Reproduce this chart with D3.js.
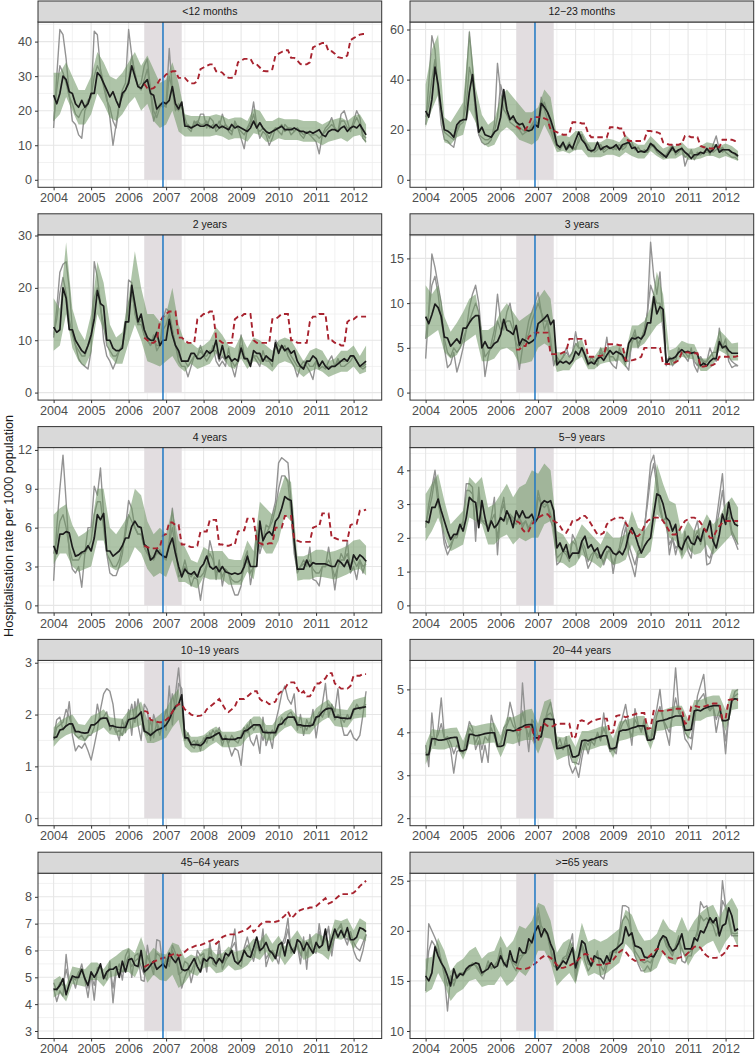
<!DOCTYPE html>
<html><head><meta charset="utf-8">
<script src="https://cdn.jsdelivr.net/npm/d3@7"></script>
<style>body{margin:0;background:#fff}svg{display:block}</style>
</head><body>
<svg id="chart" width="756" height="1056"></svg>
<script>
// ---------------- DATA ----------------
// Monthly series run Jan 2004 .. May 2012 (101 months); band bounds are every 2nd month;
// the counterfactual (red dashed) runs Jun 2006 .. May 2012 (72 months).
const panelLabels = ["<12 months","12\u221223 months","2 years","3 years","4 years","5\u22129 years","10\u221219 years","20\u221244 years","45\u221264 years",">=65 years"];
const yTicks = [[0,10,20,30,40],[0,20,40,60],[0,10,20,30],[0,5,10,15],[0,3,6,9,12],[0,1,2,3,4],[0,1,2,3],[2,3,4,5],[3,4,5,6,7,8],[10,15,20,25]];
const yFloor = [0,0,0,0,0,0,0,2,3,10];
const xTicks = [2004,2005,2006,2007,2008,2009,2010,2011,2012];
const periodStart = 2006 + 5/12, periodEnd = 2007 + 5/12, introDate = 2006 + 11/12;
const yTitle = "Hospitalisation rate per 1000 population";

// <12 months
const p1Obs1 = [15,30,43.5,42,35,25,17,16,13,12,20,22, 24,43,42,32,28,24,18,10,16,22,26,28, 43.5,36,30,27,28,33,35,26,17,20,22,21, 22,38,26,20,22,21,18,15,14,17,16,19, 19,15,18,17,14,15,19,16,14,13,17,15, 12,9,15,17,22.5,16,12,14,13,10,12,15, 14,13,16,15,13,14,15,13,12,14,13,12, 11,7.5,13,15,16,18,15,14,19,20,17,14, 17,20,18,12,11];
const p1Obs2 = [17,26,33,31,28,24,22,19,18,20,21,23, 24,30,33,31,27,23,21,17,15,22,24,26, 29,36,31,27,26,29,32,26,20,18,21,22, 21,30,26,21,20,22,16,16,15,16,17,16, 16,17,15,16,15,17,15,16,15,14,16,15, 14,13,15,16,19,15,14,15,14,12,14,15, 15,16,14,15,15,14,15,14,13,14,13,13, 13,12,13,14,15,16,15,14,17,17,15,15, 16,18,16,13,12];
const p1Fit = [24.5,22,25,30,29,25.5,25,22,21,23,21,22, 25,25,31,30,28,26,24,25.5,23,21,25,26, 28,33,30,27,26.5,28,29,25,24.5,20.5,21.5,22.5, 22,23,27,22,20.5,22.5,15.5,15.5,15,15.5,16,15.5, 15.5,16,15.5,15,16,15,15.5,15,14.5,16,15,15.5, 15,14.5,14,15,17,15,16.5,15,14,13.5,14,14.5, 15,15.5,14.5,14.5,14.5,15,14.5,14,14,13.5,14,13.5, 14,14.5,13,12.5,14,14.5,14.5,14,15,15.5,14,15, 15.5,15,16,14.5,13];
const p1Lo = [17,19,24,20,16,16,19,25,22,18, 17,19,22,24,20,22,17,15,16,20, 14,12.5,12.5,12.5,12.5,12.5,13,12.5,11.5,12, 12,11,13.5,13,11,11,12,11.5,11.5,11.5, 11,11,11,10,11,11.5,12,11,12.5,13, 10.5];
const p1Hi = [31,31,34,30,26,26,30,37,34,30, 29,31,34,37,33,36,32,28,29,34, 28,19,18.5,18.5,18.5,18.5,19,18.5,17.5,18, 18,17,20.5,20,17,17,18,17.5,17.5,17.5, 17,17,17,16,17,17.5,18,17,18.5,19, 16];
const p1Cf = [27.8,26.5,26.3,26.5,27.5,29,29.5, 30.5,31,31.4,31.4,29.5,29.5,29.5,28.5,27.9,27.9,28.5,32, 32.5,33,33.4,33.4,31.4,31.4,31,30,29.5,29.5,30,34, 34.5,35,35,35,33.4,33.4,32.5,31.5,31.4,31.4,32,36, 36.5,37,37.5,37.5,35.3,35.3,34.5,33.5,33.4,33.4,34,38.3, 38.8,39.2,39.6,39.6,37.2,37.2,36.5,35.5,35.3,35.3,36,40.4, 41,41.5,42,42.2,42.2];

// 12-23 months
const p2Obs1 = [22,38,57.5,52,35,22,16,15.5,14,13,19,22, 23,40,59,45,25,18,15,14,14.5,16,22,46.5, 35,28,26,23,22,21,20,18,19,20,22,24, 22,33,28,24,20,16,13,12,14,13,15,12, 13,15,18,15,13,11,12,13,14,11,12,13, 12,13,14,12,13,16,15,12,13,11,12,11, 14,13,11,10,9,10,12,14,10,11,13,5.5, 9,12,9,11,10,11,12,10,14,17.5,12,13, 11,10,9,9,8];
const p2Obs2 = [25,30,40,48,36,26,19,18,17,16,20,23, 24,30,45,40,27,18,17,16,16,17,19,25, 38,33,27,25,24,23,21,20,19,20,21,23, 21,28,31,27,22,18,14,13,14,12,13,13, 12,17,18,15,14,12,11,12,14,12,13,13, 13,12,14,13,14,15,14,12,13,11,11,11, 13,14,12,11,10,9,11,12,11,12,12,9, 10,11,8,10,10,11,11,12,11,12,13,11, 12,12,11,10,9];
const p2Fit = [27.5,25,32,45,38,28,20,19.5,18.5,17,22,23.5, 24,24,35,42,30,19,21,18,17.5,17,19,20, 25,36,28,24,25.5,23,22,22.5,20,19.5,20,22, 21,30.5,29,27,24,20,14,13,15,12,14,12.5, 16,19,16,14.5,12,11.5,12,15,12,13,13.5,12.5, 13,14,12,14,14.5,15,12.5,13,11,11.5,11,12, 14.5,13.5,12,11,10,9,11,13,11,12,12.5,11, 10,8.5,10,10,11,10.5,12.5,11,12,14,11,12, 12,12,11,10.5,9.5];
const p2Lo = [21,28,34,15,14,17,18,28,23,15, 13,14,19,21,19,16,15,14,16,22, 17,11,11.5,10.5,12,12,9,9,9,10, 10,9,11,9.5,8.5,8.5,11.5,9.5,8,8.5, 8.5,10,8,8,8.5,9.5,9.5,8.5,9.5,8.5, 7.5];
const p2Hi = [38,52,58,25,23,27,31,60,37,26, 22,24,33,36,33,30,27,27,29,36, 33,17.5,18,17,19.5,19.5,15,15,15,16.5, 16,15,18,15.5,14,14,17.5,15,12.5,13.5, 13.5,15,12.5,12.5,13.5,15,14.5,13.5,14.5,13.5, 11.5];
const p2Cf = [21.5,20.5,20,20,22,25,25, 25,25,24.5,24,20,19.5,19,18.5,18,18,18.5,23, 23,23,22.5,22.5,18.5,17,17,17,17,17,17,21, 21,21,20.5,20.5,16.5,15.5,15.5,15.5,15.5,15.5,16,19.5, 19.5,19,19,18.5,15,14.5,14,14,14,14,14.5,17.5, 17.5,17,17,17,13.5,13,13,12.5,12.5,13,13,16, 16,16,16,15.5,15.5];

// 2 years
const p3Obs1 = [10.5,16,23,24.5,25,20,12,9,6.5,5.5,5,4.5, 8,25,22,17,10,7,6,4.5,6,8,9,12, 21.5,21,15,13,14,11,10,9,11,8,9,14, 16,15.5,12,9,6,5,5,3,5,7,7,9, 7,6,7,9,6,5,6,5,8.5,5,3,6, 11,7,6,5.5,7,6,5,8,6,6,5,10, 9,8.5,9,7,6,5,3,5,6,5,4,2.5, 6,4.5,5,4.5,6,7,5,6.5,5,5,5.5,6, 7,6,5,4.5,5];
const p3Obs2 = [11,14,19,22,19,14,11,9,8,7,7,9, 10,18,20,16,13,9,8,7,7,8,9,12, 17,19,16,13,13,11,10,9,10,9,9,12, 13,15,12,9,7,6,6,5,6,7,7,8, 7,7,8,8,8,6,7,6,7,6,5,6, 9,7,6,6,7,7,6,6,7,6,6,9, 8,9,8,8,7,6,5,5,5,6,5,5, 6,5,6,5,5,5,5,6,6,6,6,7, 7,6,5,5,5.5];
const p3Fit = [12.5,11.5,12,20,18,12,12,10,9,8,7.5,9, 11,14,19.5,17,16.5,10,10,8.5,8,8,8.5,13.5, 13.5,20.5,17,13.5,15,12,10.5,10,10,11.5,9,10, 10,14,11,9,8,6,6,6,7.5,7.5,6.5,6.5, 7,8,7.5,8,10,6.5,9,6.5,7,6,6.5,6, 8.5,6.5,6.5,5,8,7.5,7.5,6,7,6.5,6,9.5, 7.5,9,8,8.5,7.5,8,6,5,4.5,6,6,7, 6.5,5,6,5,4.5,5,5,5.5,6,6.5,6,7, 7,6,5,5.5,6];
const p3Lo = [8,9,15,8.5,6,5,7.5,15,12,7, 5.5,5.5,9.5,13,10,6,5.5,5,6,7, 5,4,5.5,4.5,5,5.5,7.5,7,5,4.5, 6.5,4.5,6,5.5,5,4,5.5,6,5.5,4, 3,4,4.5,4,3,3.5,4,4,5,3.5, 4];
const p3Hi = [18,16,28.7,16,12,10,15,25,21,13, 10.5,11.5,18,27,20,15,15,13.5,15,20, 13,9.5,9.5,8.5,9,10,12.5,11,9,8.5, 11,8.5,10.5,10,9,8,10,10.5,10,8, 6,8,8.5,8,6,6.5,8,8,9,7, 9];
const p3Cf = [10.5,10,9.5,9.5,10,13.5,14.5, 15,15.5,15.5,15.5,10.5,10.5,10,9.5,9.5,9.5,14,14.5, 15,15,15.5,15.5,10.5,10,9.5,9.5,9.5,9.5,14,14.5, 14.5,15,15,15,10,9.5,9.5,9.5,9.5,9.5,14,14, 14.5,15,15,15,10,10,9.5,9.5,9.5,9.5,13.5,14.5, 14.5,15,15,15,10,10,9.5,9.5,9,9,13.5,14, 14,14.5,14.5,14.5,14.5];

// 3 years
const p4Obs1 = [3.8,9,15.5,14,12,10,5,2.8,3.2,4.5,2.3,3.5, 5,7,9.5,11,12,10,6,1.8,4,5.5,7,11, 8,7,9,10,8,5,2.6,5,6,8,9,10, 11.2,9,7,8,6,3,4,3.5,4,5,4,4.5, 6.8,5,5,4,3,4,3.5,3,5,4,6.2,3.5, 3,2.7,5,4,3,2.5,6,7,5,6,7,9, 16.8,13,11,13.5,8,3,4,3,3.5,5,4.5,4, 3.5,5,3,2.3,4,3,3.5,5,4,3.5,7.2,5, 6,3.5,2.8,3,3];
const p4Obs2 = [6,9,12,13,11,8,6,4.5,4,5,4.5,5, 6,7,8,9,10,9,6,4,4.5,5,6,8, 7,7.5,8,8,7,5.5,5,5.5,6,6.5,8,9, 10,9,8,8,5,3.5,3.5,3.5,4,4.5,4,4.5, 5.5,5,5,4,3.5,3.5,3.5,3.5,4.5,4,5,4, 4,3.5,4.5,4,3.5,3.5,5.5,6.5,5.5,6,7,9, 12,11,10,10,7,3.5,4,3.5,4,4.5,4.5,4.5, 4,4.5,3.5,3,4,3.5,3.5,4,4.5,4.5,6,5, 5,4,3.5,3.2,3];
const p4Fit = [8.5,7.7,8.7,9.9,9.5,8.5,6.2,6.1,5.2,5.6,6,5.5, 7.2,7.2,7.8,8.3,8.6,8.6,5,5.7,5,5,5.5,5.7, 6.5,8.2,7,6.8,6.5,7.5,5.3,6,5.8,5.5,5.7,6, 7.7,8,8.3,8.7,7.6,8.1,3.1,3.5,3.3,3.5,3.2,3.6, 4.6,4.2,5,4.2,3.2,3.4,3.2,3.8,4,3.6,4.2,4.7, 4.3,4.6,4.4,4.2,3.5,5.5,6.1,6,6.2,6,6.5,7.8, 7.8,10.7,8.8,9.6,9.3,3.2,3.8,3.8,4,4.5,4.8,4.5, 4.6,4.4,4.5,4.3,3,3.3,3,3.5,3.8,3.8,5.7,5, 5.2,4.7,4.4,4.4,4.4];
const p4Lo = [6,6.5,7,4.5,3.8,4.2,5.5,6,6.5,3.5, 3.5,3.8,4.8,5,4.5,3.2,3.3,3.5,5,5.5, 5,2.3,2.5,2.5,3.6,4,2.6,2.6,3.2,3.4, 3.5,3.6,2.8,5,5,5.5,6.5,7.5,8,3, 3.2,4,3.8,3.7,2.4,2.4,3,4.7,4.3,3.6, 3.6];
const p4Hi = [12,11,12,8.5,6.8,7.8,9,10.5,11,7, 7,7.5,9,10,9,8,8.5,9,10.5,11.5, 10.5,4.5,4.5,4,5.5,6,4,4,5,5, 5.2,5.4,4.5,7.5,7.5,8,9.5,13.5,11,4.7, 5,5.8,5.5,5.4,3.8,3.8,4.6,7,6.3,5.5, 5.6];
const p4Cf = [4.8,4.8,5.2,5.2,6.2,6.5,6.7, 6.7,6.7,6.7,6.7,4.3,4.3,4.3,4.3,4.5,4.6,6,6, 6,6,6,6,4,4,4,4.1,4.1,4.2,5.4,5.4, 5.4,5.4,5.3,5.3,3.6,3.6,3.6,3.7,3.8,4,5,5, 5,5,5,5,3.2,3.2,3.2,3.3,3.4,3.6,4.5,4.5, 4.5,4.4,4.4,4.4,2.9,2.9,3,3,3.1,3.3,4,4, 4,4,4,4,4.1];

// 4 years
const p5Obs1 = [1.9,6,9,11.6,8,4,2.8,2.5,3,1.4,4,6, 6,9.2,8.5,10.6,7,4,2.5,2.3,2.3,3,4,6, 8.1,7.5,6,5.5,5.5,4.5,4,3.8,3.5,4,4.3,3.7, 3.5,5,7.5,5,2.2,2.5,3.5,2.5,1.5,2.2,2,0.4, 2,3,5,4,2,3.5,1.5,2.8,2.5,1.5,0.8,0.8, 1.5,3.5,4.2,1.6,3,5.8,4,5,6.2,6,7,8, 11,11.4,11.2,11,8,5,2.5,3,3.5,3,4.5,2, 1.9,1.5,3,3,4.5,3,1.2,3,4,3.5,5,2.5, 3,2,3.5,2.5,3.5];
const p5Obs2 = [4,5,6.5,7,6,4.5,3.5,3.5,3.5,4,4,4.5, 5,7,8,8,6,4,3.5,3,3,3.5,4.5,5.5, 7,6.5,6,5.5,5.5,4.5,4,3.5,3.8,4,4,3.8, 3.8,4.8,6,4.5,2.8,2.5,3,2.5,2.2,2.5,2.2,2.2, 2.5,3.2,4,3.5,2.5,3,2.2,2.8,2.5,2,1.8,1.8, 2,3,3.5,2.5,3,5,4.5,5,5.5,6,6.5,7.5, 9,10,10,9.5,7,4,2.7,3,3.2,3.2,3.5,2.8, 2.5,2.5,3,3,3.5,3,2.2,3,3.5,3.5,4,3, 3.5,3,3.5,3,3.2];
const p5Fit = [4.6,4,5.5,5.5,5.7,5.6,4.5,3.8,3.9,4.1,4.2,4.6, 4.2,5.2,7,6.6,7.1,4.2,4.2,3.8,4,4.2,4.6,5.2, 5.2,6.1,6.5,6.1,6,4.7,4.5,3.5,3.7,4.3,4,3.8, 3.7,4.6,5.2,4,3,2.2,2.8,2.5,2.4,2.6,2.2,2.9, 3.2,3.8,3,2.8,3,2.6,3,2.6,2.5,2.4,2.5,2.4, 2.5,3,3.8,3,3,3,6.5,5,5.5,5.7,5.4,6.5, 6.8,7.5,8.4,8.2,8.1,5,2.8,2.8,2.8,3.5,3,3.3, 3.2,3.2,3.2,3.2,3.1,3,3,3.5,3.3,3,3.5,2.8, 3.9,3.5,3.9,3.7,3.4];
const p5Lo = [3.2,4,4,3,2.6,2.8,3,5,5,3, 2.7,3,3.4,4.5,4,2.8,2.2,2.5,2.2,3.5, 1.8,1.8,1.5,1.3,2.2,2,2,2,1.6,1.6, 1.6,2.6,2,4.8,4,4,5,7,6.5,1.9, 2,2,2.2,2.2,2.1,2,2.2,2.4,2.7,2.8, 2.3];
const p5Hi = [7,7.5,7.8,6.2,5.3,5.6,6,9,9,6, 5.5,6.2,7,9,8.5,6.5,5.5,6,5.5,7.5, 5,4.5,3.5,3.3,4.5,4.2,4.2,4.2,3.6,3.5, 3.5,5,4.2,8,7.5,7,8.5,10,9.5,3.8, 3.8,4,4.3,4.3,4.1,4.2,4.4,4.6,5,5.1, 4.6];
const p5Cf = [4.6,4.5,4.4,4.4,4.4,4.5,5.4, 5.5,6.4,6.4,6.2,6.2,4.7,4.7,4.6,4.5,4.5,4.6,5.7, 5.7,5.7,6.6,6.6,6.6,4.7,4.7,4.6,4.6,4.7,4.7,5.7, 5.8,5.8,6.7,6.7,6.7,4.9,4.8,4.7,4.7,4.8,4.8,6, 6,6,6.9,6.9,6.9,5.1,5,4.9,4.9,4.9,4.9,6, 6.1,6.1,7.1,7.1,7.1,5.2,5.2,5.1,5,5,5,6.2, 6.3,6.3,7.3,7.3,7.4];

// 5-9 years
const p6Obs1 = [2.3,3,3.5,4,3.3,2.5,1.8,1.5,1.7,2,2,2.3, 2.5,3.6,3.6,3.5,1.9,3.5,2.5,2.5,2.3,2.6,3.2,1.5, 2.8,3.2,2.4,2.7,2.5,2.4,2.6,2.3,2.5,2.2,2.5,2.5, 3.4,3,2.9,3,2.5,2.3,1.2,1.3,1.6,1.5,1.3,2.1, 1.9,1.4,1.8,1.5,1.1,1.3,1.6,1.4,1.5,1.2,1.5,1.7, 0.95,1.5,1.7,2.2,2.5,1.5,1.2,0.85,1.5,1.6,2.2,3.2, 4.2,4.45,3.8,3,2.5,2.6,1.5,2,1.5,1.9,1.5,2.2, 1.6,1.4,2.2,2.5,1.8,2.2,1.2,1.25,1.6,2.5,3.2,3.9, 2.5,2.6,2.1,1.9,1.65];
const p6Obs2 = [2.4,2.8,3.2,3.8,3,2.6,2,1.7,1.8,2,2.1,2.3, 2.4,3.4,3.4,3.3,2.2,3.3,2.5,2.4,2.3,2.5,2.7,2, 2.7,3,2.5,2.7,2.6,2.5,2.6,2.4,2.5,2.3,2.5,2.4, 3.2,3,3,3,2.7,2.4,1.4,1.5,1.6,1.6,1.4,1.9, 1.8,1.5,1.9,1.7,1.3,1.5,1.6,1.5,1.4,1.3,1.6,1.6, 1.2,1.5,1.6,1.9,2.3,1.8,1.5,1.2,1.6,1.7,2.3,3, 3.8,4.2,3.5,2.8,2.5,2.4,1.8,2,1.7,1.8,1.6,2, 1.8,1.6,2,2.2,1.9,2.1,1.5,1.4,1.7,2.3,2.8,3.4, 2.6,2.8,2.2,2,1.8];
const p6Fit = [2.5,2.45,2.9,2.9,3.15,2.8,2.5,2.2,1.95,2.1,2.1,2.4, 2.2,2.6,3.2,3.1,3.05,2.3,3.1,2.6,2.2,2.5,2.3,2.4, 2.6,2.5,2.8,2.6,2.3,2.8,2.6,2.8,2.6,2.6,2.7,2.45, 2.6,3,3.1,3.05,3.1,2.8,1.7,1.85,1.6,1.8,1.4,1.55, 1.55,1.55,1.9,2.05,1.7,1.8,1.6,1.7,1.4,1.6,1.75,1.7, 1.55,1.5,1.6,1.5,1.7,2.1,2.3,2.1,1.8,1.55,1.75,1.9, 2,2.7,3.3,3.25,3,2.6,2.5,2.2,2.4,1.75,1.65,1.9, 2.05,1.85,1.8,2.05,1.9,2.25,2.2,2.5,1.9,1.7,2.1,2.7, 2.4,3.05,2.6,2.4,2.35];
const p6Lo = [1.9,2.2,2.6,2.1,1.6,1.7,1.8,2.6,2.5,2.4, 1.8,1.8,2,2.1,1.8,2,1.9,2,2,2.4, 2.5,1.3,1.25,1.1,1.2,1.5,1.35,1.25,1.1,1.4, 1.2,1.25,1.35,1.8,1.4,1.4,1.6,2.7,2.5,2, 1.9,1.35,1.7,1.5,1.55,1.8,1.5,1.7,1.9,2.1, 1.8];
const p6Hi = [3.3,3.6,3.9,3.1,2.4,2.6,2.8,3.8,3.6,3.8, 2.9,3,3.3,3.6,3.2,3.5,3.6,4,3.9,4.2, 4,2.2,2.1,1.8,2,2.4,2.2,2,1.8,2.2, 2,2,2.1,2.8,2.3,2.2,2.5,4.2,3.6,3.1, 3,2.1,2.5,2.2,2.3,2.7,2.4,2.6,3,3.2, 2.9];
const p6Cf = [2.5,2.45,2.25,2.15,2.2,2.4,2.5, 2.6,2.65,2.7,2.7,2.6,2.5,2.45,2.35,2.2,2.15,2.3,2.5, 2.5,2.55,2.65,2.65,2.55,2.4,2.25,2.1,2.1,2.15,2.4,2.5, 2.55,2.6,2.6,2.6,2.45,2.3,2.15,2.05,2.05,2.15,2.35,2.5, 2.55,2.6,2.6,2.6,2.5,2.35,2.2,2.1,2.1,2.2,2.35,2.5, 2.55,2.6,2.6,2.55,2.45,2.3,2.15,2,2,2.2,2.35,2.45, 2.5,2.5,2.5,2.5,2.5];

// 10-19 years
const p7Obs1 = [1.55,1.9,1.95,1.7,1.8,2.25,1.6,1.3,1.4,1.35,1.45,1.3, 1.12,1.4,1.7,2.1,2.4,2.5,2.45,2.2,1.7,1.5,1.9,1.65, 2.1,1.6,2.25,1.8,1.5,2.2,2.1,1.5,2,1.8,1.6,1.9, 1.7,2.55,1.8,2.4,2.9,2.2,1.5,1.65,1.4,1.35,1.5,1.3, 1.55,1.45,1.65,1.5,1.7,1.65,1.4,1.6,1.4,1.2,1.35,1.3, 1.02,1.6,1.8,1.5,1.4,1.6,1.25,1.95,1.4,1.6,1.35,1.85, 2.1,2.4,2.55,2.3,2.2,2.4,1.7,2,1.6,1.9,1.75,2.1, 1.55,1.95,2.2,2.6,1.95,2.2,2.05,2.5,1.85,1.6,1.6,1.7, 1.55,1.5,1.6,2,2.45];
const p7Obs2 = [1.5,1.75,1.8,1.85,2.1,1.95,1.75,1.6,1.55,1.6,1.5,1.6, 1.6,1.75,2.2,1.9,1.95,2.05,1.7,1.8,1.65,1.7,1.6,1.85, 1.9,2.2,1.85,2.3,2,1.75,1.6,1.9,1.55,1.85,1.7,1.8, 2.1,1.9,2.4,2.1,2.6,2.5,1.6,1.5,1.45,1.5,1.4,1.45, 1.5,1.6,1.55,1.7,1.6,1.75,1.5,1.55,1.45,1.6,1.5,1.45, 1.6,1.75,1.65,1.9,1.7,1.8,1.75,1.5,1.7,1.6,1.7,1.6, 1.75,1.95,1.8,2,2.05,1.9,1.85,1.75,1.8,1.7,1.85,1.8, 1.9,2.05,1.95,2.1,2.2,2.1,1.9,2,1.95,1.85,2,1.9, 2.05,2.2,2.1,2.15,2.2];
const p7Fit = [1.55,1.57,1.7,1.72,1.78,1.82,1.82,1.67,1.67,1.65,1.64,1.65, 1.8,1.8,1.85,1.92,1.93,1.93,1.78,1.78,1.76,1.75,1.75,1.75, 1.9,1.92,1.93,1.98,2.05,1.68,1.65,1.6,1.65,1.7,1.72,1.75, 1.8,1.9,2.05,2.15,2.2,2.38,1.55,1.55,1.42,1.42,1.42,1.4, 1.45,1.55,1.55,1.58,1.62,1.65,1.52,1.53,1.52,1.52,1.52,1.55, 1.55,1.68,1.7,1.75,1.8,1.8,1.8,1.66,1.65,1.65,1.65,1.65, 1.8,1.82,1.9,1.95,1.95,1.95,1.8,1.8,1.78,1.78,1.78,1.8, 1.95,1.97,2.05,2.1,2.12,2.12,1.95,1.95,1.93,1.93,1.92,1.93, 2.1,2.12,2.13,2.14,2.15];
const p7Lo = [1.38,1.52,1.6,1.65,1.52,1.48,1.62,1.68,1.75,1.62, 1.6,1.58,1.72,1.75,1.8,1.45,1.45,1.5,1.55,1.75, 1.9,1.38,1.27,1.27,1.3,1.4,1.47,1.37,1.37,1.37, 1.4,1.55,1.64,1.65,1.5,1.5,1.64,1.74,1.79,1.64, 1.62,1.62,1.78,1.88,1.95,1.78,1.76,1.75,1.92,1.94, 1.95];
const p7Hi = [1.75,1.88,1.95,2,1.82,1.8,1.97,2.02,2.1,1.95, 1.93,1.92,2.08,2.12,2.25,1.9,1.9,2,2.1,2.35, 2.5,1.72,1.57,1.57,1.6,1.7,1.77,1.67,1.67,1.67, 1.7,1.85,1.96,1.96,1.8,1.8,1.96,2.06,2.11,1.96, 1.94,1.94,2.12,2.22,2.29,2.12,2.1,2.09,2.28,2.32, 2.35];
const p7Cf = [2.07,2.05,1.9,1.88,1.86,1.85,1.85, 1.9,1.95,2.05,2.15,2.2,2.2,2.1,2.05,2,1.98,1.97,1.98, 2,2.1,2.15,2.2,2.25,2.3,2.2,2.1,2.05,2.1,2.15,2.3, 2.3,2.3,2.35,2.4,2.45,2.45,2.3,2.25,2.25,2.2,2.22,2.25, 2.4,2.45,2.5,2.6,2.62,2.62,2.5,2.4,2.45,2.35,2.35,2.45, 2.6,2.6,2.65,2.7,2.8,2.8,2.6,2.55,2.5,2.5,2.5,2.55, 2.75,2.75,2.75,2.78,2.78];

// 20-44 years
const p8Obs1 = [3.7,3.2,4.45,3.7,4.1,4.8,3.9,3.8,3.6,3.05,3.55,3.6, 3.5,3.9,4.25,4.1,3.6,3.8,3.3,3.7,3.3,4.4,4.1,3.7, 3.7,4.1,4.2,4.7,4.4,4.05,3.7,5.15,4.2,3.55,4.3,4.2, 3.9,3.9,4.2,4.5,4.7,4.3,3.7,3.85,3.6,3.9,3.25,3.05, 3.2,2.95,3.4,3.75,3.5,3.8,3.7,4,3.8,4.45,3.9,3.55, 3.6,3.5,4.1,4.35,4.65,4.2,3.7,4.55,4.2,4,4.3,3.95, 3.8,4.3,4.55,5,4.3,4,3.7,4.5,5.5,4.6,4.3,3.85, 3.75,3.6,4.2,4.85,5.1,5.35,4.6,4.5,4.6,4,4.4,4.3, 3.5,4.4,4.7,4.95,5];
const p8Obs2 = [3.55,3.4,3.9,3.8,3.95,4.2,3.85,3.9,3.75,3.5,3.7,3.6, 3.55,3.75,4.1,4,3.75,3.95,3.6,3.9,3.8,4.1,3.9,3.7, 3.75,3.95,4.15,4.35,4.15,4.05,3.9,4.5,4.15,3.9,4.25,4, 3.85,3.95,4.25,4.4,4.45,4.3,3.65,3.7,3.6,3.75,3.5,3.3, 3.3,3.25,3.6,3.8,3.7,3.85,3.8,3.95,3.85,4.1,3.9,3.6, 3.6,3.6,4,4.2,4.3,4.1,3.9,4.3,4.15,4.05,4.2,3.9, 3.8,4.05,4.4,4.6,4.3,4.15,4,4.4,4.8,4.45,4.35,4, 3.9,3.85,4.35,4.7,4.8,4.9,4.6,4.55,4.6,4.3,4.5,4.3, 3.8,4.35,4.75,4.85,4.9];
const p8Fit = [3.48,3.48,3.85,3.85,3.82,3.82,3.83,3.85,3.87,3.88,3.88,3.57, 3.57,3.6,3.95,3.95,3.92,3.93,3.95,3.97,3.98,3.99,3.99,3.67, 3.67,3.7,4.05,4.05,4.03,4.05,4.1,4.13,4.17,4.18,4.18,3.87, 3.87,3.9,4.3,4.32,4.3,4.3,3.62,3.63,3.65,3.68,3.7,3.43, 3.43,3.47,3.8,3.82,3.8,3.83,3.85,3.88,3.9,3.92,3.92,3.62, 3.62,3.65,4.02,4.05,4.05,4.07,4.1,4.12,4.15,4.15,4.15,3.82, 3.82,3.85,4.25,4.27,4.28,4.3,4.33,4.35,4.38,4.38,4.38,4.05, 4.05,4.07,4.5,4.52,4.5,4.55,4.58,4.6,4.62,4.62,4.62,4.27, 4.27,4.3,4.75,4.78,4.77];
const p8Lo = [3.25,3.62,3.6,3.6,3.65,3.66,3.36,3.73,3.7,3.72, 3.75,3.76,3.42,3.75,3.72,3.78,3.82,3.82,3.5,3.88, 3.85,3.35,3.42,3.47,3.2,3.58,3.58,3.63,3.68,3.7, 3.4,3.8,3.83,3.88,3.93,3.93,3.6,4.03,4.05,4.1, 4.15,4.15,3.82,4.27,4.27,4.35,4.38,4.38,4.03,4.52, 4.55];
const p8Hi = [3.72,4.08,4.05,4.07,4.1,4.11,3.8,4.18,4.15,4.18, 4.21,4.22,3.92,4.35,4.35,4.42,4.52,4.55,4.2,4.72, 4.78,3.9,3.88,3.93,3.66,4.03,4.03,4.08,4.13,4.15, 3.85,4.25,4.28,4.33,4.38,4.38,4.05,4.5,4.52,4.57, 4.62,4.62,4.3,4.75,4.75,4.82,4.86,4.86,4.52,5, 5];
const p8Cf = [4.05,4.05,4.1,4.12,4.13,4.13,3.77, 3.8,4.15,4.2,4.15,4.12,4.15,4.2,4.2,4.2,4.2,4.2,3.85, 3.9,4.25,4.28,4.25,4.2,4.25,4.28,4.3,4.32,4.32,4.32,3.98, 4,4.38,4.4,4.38,4.35,4.38,4.4,4.42,4.45,4.45,4.45,4.08, 4.1,4.5,4.52,4.5,4.5,4.5,4.52,4.53,4.55,4.55,4.55,4.2, 4.22,4.6,4.62,4.6,4.58,4.6,4.62,4.65,4.67,4.67,4.67,4.3, 4.32,4.75,4.77,4.75,4.75];

// 45-64 years
const p9Obs1 = [4.6,4.1,4.5,4.3,5.85,4.8,5,4.6,5.1,5.5,4.9,4.25, 5.1,4.15,5.35,5.4,5.1,4.9,5.6,4.05,5.2,5.5,4.9,5.8, 6.05,5,5.8,5.9,4.9,4.85,6.2,5.5,5.1,6.4,6.35,5.3, 5.7,5.4,6.2,5.9,5.1,5.2,5.6,5.5,4.8,5.3,6,5.8, 5.9,5.2,6.3,5.5,5.4,6.3,5.3,5.6,5.8,6.2,6.8,5.5, 5.4,6.1,6.5,6,5.6,6.2,5.9,6.8,5.4,5.8,6,5.8, 5.5,6.2,6.5,7.2,5.9,6.1,6.2,5.5,6.5,5.3,6.6,6, 5.9,7,6.2,6.4,6.9,5.8,6.6,6.8,7,6.5,6.2,6.7, 6,5.7,5.6,6,6.6];
const p9Obs2 = [4.8,4.5,4.8,4.7,5.3,4.8,5,4.9,5.2,5.3,5,4.6, 5.1,4.7,5.3,5.4,5,5.1,5.4,4.6,5.3,5.3,5.2,5.5, 5.8,5.4,5.6,5.7,5.4,5.1,5.8,5.5,5.3,5.9,5.8,5.4, 5.6,5.6,6,5.7,5.3,4.6,5,5.3,5.2,5.5,5.8,5.5, 5.8,5.4,6,5.6,5.5,6,5.5,5.7,5.8,6.1,6.3,5.6, 5.6,6,6.2,6,5.8,6.3,6,6.5,5.7,5.9,6,5.8, 5.8,6.2,6.3,6.8,6,6,6.3,5.8,6.3,5.8,6.4,6, 6.1,6.7,6.2,6.6,6.8,6.1,6.6,6.8,6.9,6.5,6.4,6.7, 6.3,6.1,6,6.3,6.6];
const p9Fit = [4.55,4.55,4.7,4.95,4.35,4.75,5.05,5,5,5.3,4.95,4.7, 5.2,5,5.2,5.5,4.95,5.2,5.3,5.3,5.4,5,5.6,5.2, 5.65,5.7,5.45,5.4,6,5.2,5.3,5.45,5.6,5.3,5.4,5.5, 5.35,5.9,5.7,5.55,5.75,5.3,5.25,5.3,5.5,5.7,5.4,5.2, 5.7,5.6,5.75,5.7,5.5,5.7,5.55,5.9,5.8,6,5.6,5.5, 5.65,6,5.8,5.75,6.1,6.5,6,6.1,6.3,6,5.9,5.7, 6.2,6.3,5.8,6.4,6.1,5.9,6.4,6.3,6,6.3,6.1,5.9, 6.3,6.1,6.2,6.8,6,6.4,6.8,6.5,6.75,6.5,6.85,6.4, 6.4,6.5,6.85,6.8,6.7];
const p9Lo = [4.25,4.4,4.1,4.75,4.7,4.65,4.9,4.9,4.65,5, 5.05,5.2,5.2,5,5.5,4.8,5.1,4.9,4.85,5.1, 4.6,4.8,5.15,5.05,5.35,5.4,5.15,5.2,5.45,5.25, 5.3,5.45,5.75,5.65,5.95,5.55,5.85,5.45,5.75,6.05, 5.65,5.75,5.95,5.85,5.65,6.45,6.4,6.5,6.05,6.45, 6.35];
const p9Hi = [4.9,5.05,4.7,5.4,5.35,5.3,5.55,5.55,5.3,5.65, 5.8,6,6.1,5.9,6.5,5.8,6.1,5.9,5.85,6.3, 6.2,5.7,5.85,5.75,6.05,6.1,5.85,5.9,6.15,5.95, 6,6.15,6.45,6.35,6.65,6.25,6.55,6.15,6.45,6.75, 6.35,6.45,6.65,6.55,6.35,7.15,7.1,7.2,6.75,7.2, 7.05];
const p9Cf = [5.38,5.45,5.52,5.58,5.63,5.68,5.72, 5.75,5.8,5.85,5.9,5.8,5.85,5.95,6.05,6.1,6.15,6.2,6.2, 6.25,6.3,6.35,6.4,6.25,6.35,6.5,6.55,6.6,6.6,6.6,6.65, 6.7,6.75,6.8,6.9,6.7,6.8,6.95,7.05,7.07,7.07,7.05,7.07, 7.1,7.2,7.3,7.45,7.2,7.3,7.45,7.5,7.55,7.55,7.6,7.6, 7.65,7.75,7.85,7.95,7.75,7.8,7.9,8,8.1,8.1,8.1,8.1, 8.15,8.25,8.4,8.5,8.6];

// >=65 years
const p10Obs1 = [14,20.7,20,19.3,18.5,17,15.5,12,15.5,14.5,15.5,15.8, 15.5,16,16.2,16.8,16.5,16,15.5,16,17,16.2,16.5,17, 18.3,16.5,17,17.3,16.5,16,17,17.5,17.8,18.2,19,20, 22.3,20.5,20,19.5,18,16.5,16.3,16.5,17.3,17.5,18.5,19.7, 15,17,18.5,17,16,16.5,17,18,15.5,15.2,16.5,17.8, 18,17.8,19.5,22.5,22.5,22.3,19.5,17.5,16.7,16,16,16.5, 16,17.5,18,19,19.5,18.5,18,17.5,18.5,19.5,17,16.8, 17.5,17.5,19,20,22.9,22.3,22.5,21,20.5,19.5,20.2,25, 22.5,21,19.5,19.5,19.5];
const p10Obs2 = [15,18,19,18.5,18,17,16,14.5,15.5,15,15.5,15.8, 15.8,16,16.3,16.6,16.6,16.2,15.8,16,16.6,16.4,16.4,16.8, 17.8,16.8,16.8,17.5,16.8,16.5,17.5,17.6,17.8,18.6,18.9,19.8, 21.5,20,20,19.6,18.4,17,16.4,16.6,17.2,17.2,18,18.8, 15.8,17.3,18.7,17.8,16.7,16.5,17.2,17.6,16.5,16,17,17.4, 18,18,19,21,21.5,21,19.5,18,17.5,17,16.8,17, 16.8,17.5,18,19,19.5,18.8,18.2,17.8,18.3,19.2,18.2,17.5, 17.8,18,19.2,19.6,21.5,21,21.3,20.8,21,20.5,20,23, 22.3,21.5,19.8,19.7,19.8];
const p10Fit = [15.5,15,15.8,18.4,17.5,16.8,16.3,15.5,14.5,16.2,15.3,15.7, 15.6,16.2,16.5,16.6,16.8,16.7,15.8,16,16.2,16.8,16.3,16.5, 17.5,16.8,16.4,18,17,16.8,18.3,17.8,17.8,19.2,18.8,19.9, 20.5,19.4,20.2,19.7,18.7,18,16.1,16.5,17,16.7,17.5,18.3, 16.3,17.5,19,18.7,17.2,16.5,17.5,17.3,17.2,16.7,17.5,16.9, 18,18.2,18.5,18.8,20.4,19.5,19.8,18.5,18.4,18.2,17.4,17.3, 17.5,17.4,18,19,19.5,19.3,18.5,18,18.2,18.8,19.7,18.2, 18.2,18.2,19.3,19,20,19.8,20.5,21.3,20.8,21.3,19.5,20.5, 20.7,22.3,21.5,20,20.2];
const p10Lo = [13.8,14.2,15.8,14.6,13,13.8,14.2,15,15.2,14.4, 14.6,14.6,15.5,14.5,15,16,15.5,16.5,18,18, 16.8,14.5,15.2,15.8,14.7,17.2,15.5,15.8,15.5,15.8, 16.3,16.8,18.7,18,16.8,15.8,15.9,16.3,17.8,16.8, 16.6,18,16.5,17.6,18.2,18.7,19,17.7,18.9,19.7, 18.3];
const p10Hi = [17.2,17.4,19.3,18,16,16.8,17.2,18,18.4,17.2, 17.8,18,19.5,18.3,19,20.5,20.2,21,22.8,22.5, 21,17.8,18.8,19.2,17.9,20.8,18.9,19.2,18.9,19.2, 19.7,20.2,22.1,21.6,20,19,19.1,19.7,21.2,20.2, 19.8,21.4,19.9,21,21.8,22.3,22.6,21.3,22.5,23.3, 22.1];
const p10Cf = [16.3,16.2,16.2,16.2,16.3,16.5,16.7, 17,17.3,17.5,17.5,17.3,17,16.6,16.3,16.3,16.4,16.5,16.7, 16.8,17.2,17.5,17.7,17.6,17.2,16.8,16.6,16.6,16.6,16.7,16.8, 17.1,17.5,17.9,18.1,17.9,17.5,17.2,17,17,17.1,17.1,17.3, 17.6,17.9,18.2,18.2,17.9,17.5,17.3,17.2,17.2,17.3,17.4,17.5, 17.8,18.1,18.4,18.5,18.3,17.8,17.5,17.3,17.3,17.3,17.4,17.6, 17.9,18.5,18.5,18.5,18.5];

const obsA = [p1Obs1,p2Obs1,p3Obs1,p4Obs1,p5Obs1,p6Obs1,p7Obs1,p8Obs1,p9Obs1,p10Obs1];
const obsB = [p1Obs2,p2Obs2,p3Obs2,p4Obs2,p5Obs2,p6Obs2,p7Obs2,p8Obs2,p9Obs2,p10Obs2];
const fits = [p1Fit,p2Fit,p3Fit,p4Fit,p5Fit,p6Fit,p7Fit,p8Fit,p9Fit,p10Fit];
const los = [p1Lo,p2Lo,p3Lo,p4Lo,p5Lo,p6Lo,p7Lo,p8Lo,p9Lo,p10Lo];
const his = [p1Hi,p2Hi,p3Hi,p4Hi,p5Hi,p6Hi,p7Hi,p8Hi,p9Hi,p10Hi];
const cfs = [p1Cf,p2Cf,p3Cf,p4Cf,p5Cf,p6Cf,p7Cf,p8Cf,p9Cf,p10Cf];

// ---------------- DRAWING ----------------
const monthIdx = d3.range(101);
const bandIdx = d3.range(0, 101, 2);
const cfIdx = d3.range(29, 101);
const toYear = m => 2004 + m / 12;

const FONT = "'Liberation Sans', Arial, Helvetica, sans-serif";
const W = 756, H = 1056;
const colLeft = [38, 410], panelW = 343.7, rowPitch = 212.8, firstTop = 1, stripH = 21, plotH = 165.3;
const xSpan = 100 / 12;

const svg = d3.select("#chart");
svg.append("rect").attr("width", W).attr("height", H).attr("fill", "#ffffff");

let problems = [];

panelLabels.forEach((label, i) => {
  const col = i % 2, row = Math.floor(i / 2);
  const left = colLeft[col], right = left + panelW;
  const stripTop = firstTop + row * rowPitch, top = stripTop + stripH, bottom = top + plotH;

  const sA = obsA[i], sB = obsB[i], sF = fits[i], sL = los[i], sH = his[i], sC = cfs[i];
  if (sA.length !== 101 || sB.length !== 101 || sF.length !== 101 || sL.length !== 51 || sH.length !== 51 || sC.length !== 72)
    problems.push(label + ":" + [sA.length, sB.length, sF.length, sL.length, sH.length, sC.length].join("/"));

  const x = d3.scaleLinear().domain([2004 - 0.05 * xSpan, 2004 + xSpan + 0.05 * xSpan]).range([left, right]);
  const ymin = yFloor[i], ymax = d3.max([d3.max(sA), d3.max(sB), d3.max(sF), d3.max(sH), d3.max(sC)]);
  const pad = 0.05 * (ymax - ymin);
  const y = d3.scaleLinear().domain([ymin - pad, ymax + pad]).range([bottom, top]);
  const xd = x.domain(), yd = y.domain();

  const clipId = "clip" + i;
  svg.append("clipPath").attr("id", clipId).append("rect")
    .attr("x", left).attr("y", top).attr("width", panelW).attr("height", plotH);

  const g = svg.append("g");
  g.append("rect").attr("x", left).attr("y", top).attr("width", panelW).attr("height", plotH).attr("fill", "#fff");

  // grid
  const ticks = yTicks[i], step = ticks[1] - ticks[0];
  const yMinor = [ticks[0] - step / 2, ...ticks.map(t => t + step / 2)].filter(v => v >= yd[0] && v <= yd[1]);
  const xMinor = d3.range(2003.5, 2013, 1).filter(v => v >= xd[0] && v <= xd[1]);
  const grid = g.append("g");
  grid.selectAll(".xmin").data(xMinor).join("line")
    .attr("x1", d => x(d)).attr("x2", d => x(d)).attr("y1", top).attr("y2", bottom)
    .attr("stroke", "#EDEDED").attr("stroke-width", 0.7);
  grid.selectAll(".ymin").data(yMinor).join("line")
    .attr("x1", left).attr("x2", right).attr("y1", d => y(d)).attr("y2", d => y(d))
    .attr("stroke", "#EDEDED").attr("stroke-width", 0.7);
  grid.selectAll(".xmaj").data(xTicks).join("line")
    .attr("x1", d => x(d)).attr("x2", d => x(d)).attr("y1", top).attr("y2", bottom)
    .attr("stroke", "#E6E6E6").attr("stroke-width", 1.1);
  grid.selectAll(".ymaj").data(ticks).join("line")
    .attr("x1", left).attr("x2", right).attr("y1", d => y(d)).attr("y2", d => y(d))
    .attr("stroke", "#E6E6E6").attr("stroke-width", 1.1);

  const data = g.append("g").attr("clip-path", `url(#${clipId})`);

  // shaded period
  data.append("rect")
    .attr("x", x(periodStart)).attr("width", x(periodEnd) - x(periodStart))
    .attr("y", top).attr("height", y(ymin) - top)
    .attr("fill", "#E2DDE0");

  const lineGen = (arr, idx) => d3.line().x((d, k) => x(toYear(idx[k]))).y(d => y(d))(arr);

  // observed series
  [sA, sB].forEach(s => {
    data.append("path").attr("d", lineGen(s, monthIdx))
      .attr("fill", "none").attr("stroke", "#939393").attr("stroke-width", 1.4).attr("stroke-linejoin", "round");
  });

  // uncertainty band
  const area = d3.area().x((d, k) => x(toYear(bandIdx[k]))).y0((d, k) => y(sL[k])).y1((d, k) => y(sH[k]));
  data.append("path").attr("d", area(sL)).attr("fill", "#6B9460").attr("fill-opacity", 0.55);

  // fitted line
  data.append("path").attr("d", lineGen(sF, monthIdx))
    .attr("fill", "none").attr("stroke", "#1C1C1C").attr("stroke-width", 1.7).attr("stroke-linejoin", "round");

  // counterfactual
  data.append("path").attr("d", lineGen(sC, cfIdx))
    .attr("fill", "none").attr("stroke", "#A8232F").attr("stroke-width", 1.9)
    .attr("stroke-dasharray", "5.5,3.5");

  // intervention line
  data.append("line").attr("x1", x(introDate)).attr("x2", x(introDate)).attr("y1", top).attr("y2", bottom)
    .attr("stroke", "#1F78C4").attr("stroke-width", 1.5);

  // border
  g.append("rect").attr("x", left).attr("y", top).attr("width", panelW).attr("height", plotH)
    .attr("fill", "none").attr("stroke", "#333").attr("stroke-width", 1);

  // strip
  g.append("rect").attr("x", left).attr("y", stripTop).attr("width", panelW).attr("height", stripH)
    .attr("fill", "#D9D9D9").attr("stroke", "#333").attr("stroke-width", 1);
  g.append("text").attr("x", (left + right) / 2).attr("y", stripTop + stripH / 2 + 3.6)
    .attr("text-anchor", "middle").attr("font-family", FONT).attr("font-size", 10.5)
    .attr("fill", "#1A1A1A").text(label);

  // axes
  const ya = d3.axisLeft(y).tickValues(ticks).tickSize(3).tickPadding(3).tickFormat(d3.format("d"));
  g.append("g").attr("transform", `translate(${left},0)`).call(ya)
    .attr("font-family", FONT).attr("font-size", 12.6)
    .call(a => { a.select(".domain").remove(); a.selectAll("line").attr("stroke", "#333"); a.selectAll("text").attr("fill", "#4D4D4D"); });
  const xa = d3.axisBottom(x).tickValues(xTicks).tickSize(3).tickPadding(2.8).tickFormat(d3.format("d"));
  g.append("g").attr("transform", `translate(0,${bottom})`).call(xa)
    .attr("font-family", FONT).attr("font-size", 12.6)
    .call(a => { a.select(".domain").remove(); a.selectAll("line").attr("stroke", "#333"); a.selectAll("text").attr("fill", "#4D4D4D"); });
});

// y-axis title
svg.append("text").attr("transform", "translate(12.5,526) rotate(-90)")
  .attr("text-anchor", "middle").attr("font-family", FONT).attr("font-size", 12.6)
  .attr("fill", "#1A1A1A").text(yTitle);

if (problems.length) {
  svg.append("text").attr("x", 200).attr("y", 600).attr("fill", "red").attr("font-size", 14).text("LEN " + problems.join(" | "));
}
</script>
</body></html>
